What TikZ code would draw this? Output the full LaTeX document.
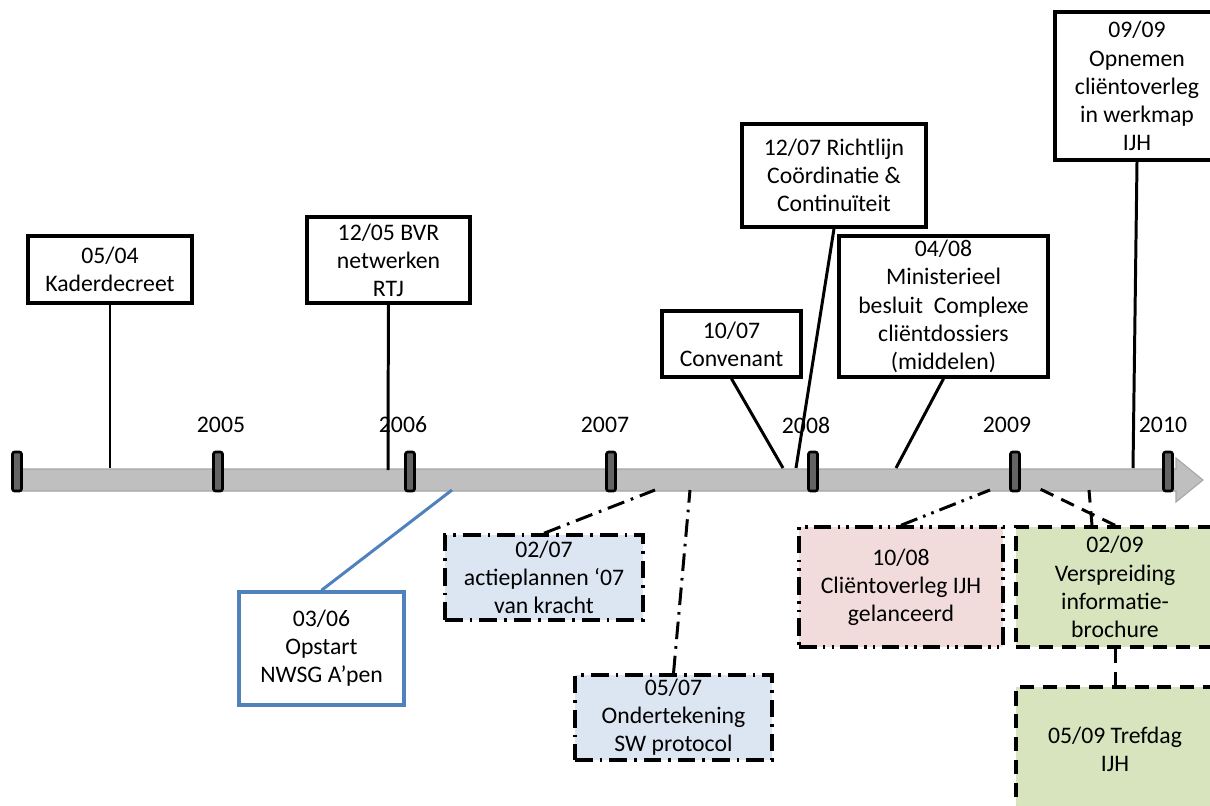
\documentclass[tikz,border=0pt]{standalone}
\usepackage{fontspec}
\setmainfont{Carlito}
\usepackage{tikz}
\usetikzlibrary{positioning}
\definecolor{lineblue}{RGB}{79,129,189}
\definecolor{lblue}{RGB}{220,230,242}
\definecolor{lpink}{RGB}{242,220,219}
\definecolor{lgreen}{RGB}{215,228,189}
\definecolor{bargray}{RGB}{191,191,191}
\definecolor{baredge}{RGB}{166,166,166}
\definecolor{tickgray}{RGB}{100,100,100}
\tikzstyle{event} = [rectangle, draw=black, line width=2pt, fill=white,
align=center, inner sep=0pt, font=\fontsize{13.5}{16}\selectfont]
\tikzstyle{stem} = [line width=1.7pt]
\tikzstyle{dashdot} = [dash pattern=on 10pt off 4pt on 1.5pt off 4pt]
\tikzstyle{dashdotdot} = [dash pattern=on 10pt off 3.5pt on 1.5pt off 3.5pt on 1.5pt off 3.5pt]
\tikzstyle{longdash} = [dash pattern=on 8pt off 5pt]
\tikzstyle{yearlabel} = [inner sep=0pt, font=\fontsize{13.5}{16}\selectfont]
\tikzstyle{tick} = [draw=black, fill=tickgray, line width=1.5pt, rounded corners=1.2pt]

\begin{document}
\begin{tikzpicture}[x=0.02cm, y=-0.02cm]
    \clip (0,0) rectangle (1210,805);
    \fill[white] (0,0) rectangle (1210,805);

    \filldraw[fill=bargray, draw=baredge, line width=0.6pt]
        (13,469) -- (1176,469) -- (1176,458) -- (1203,480)
        -- (1176,502) -- (1176,491) -- (13,491) -- cycle;

    \node[yearlabel] (y2005) at (221,425) {2005};
    \node[yearlabel] (y2006) at (403,425) {2006};
    \node[yearlabel] (y2007) at (605,425) {2007};
    \node[yearlabel] (y2008) at (806,425) {2008};
    \node[yearlabel] (y2009) at (1007,425) {2009};
    \node[yearlabel] (y2010) at (1163,425) {2010};

    \coordinate (a-kader) at (110,468);
    \coordinate (a-bvr) at (388,470);
    \coordinate (a-conv) at (783,468);
    \coordinate (a-richt) at (796,468);
    \coordinate (a-minis) at (896,468);
    \coordinate (a-opnem) at (1133,468);
    \coordinate (a-opstart) at (452,490);
    \coordinate (a-actie) at (655,490);
    \coordinate (a-onder) at (690,490);
    \coordinate (a-clientov) at (990,490);
    \coordinate (a-versp) at (1038,488);
    \coordinate (a-versp2) at (1089,490);

    \node (kader) [event, minimum width=3.28cm, minimum height=1.34cm] at (110,269.5)
        {05/04\\Kaderdecreet};
    \node (bvr) [event, minimum width=3.26cm, minimum height=1.72cm] at (388.5,260)
        {12/05 BVR\\netwerken\\RTJ};
    \node (conv) [event, minimum width=2.78cm, minimum height=1.32cm] at (731.5,344)
        {10/07\\Convenant};
    \node (richt) [event, minimum width=3.68cm, minimum height=2.06cm] at (834,175.5)
        {12/07 Richtlijn\\Coördinatie \&\\Continuïteit};
    \node (minis) [event, minimum width=4.18cm, minimum height=2.82cm] at (943.5,306.5)
        {04/08\\Ministerieel\\besluit~~Complexe\\cliëntdossiers\\(middelen)};
    \node (opnem) [event, minimum width=3.28cm, minimum height=2.96cm] at (1137,86)
        {09/09\\Opnemen\\cliëntoverleg\\in werkmap\\IJH};

    \node (opstart) [event, draw=lineblue, minimum width=3.30cm, minimum height=2.26cm] at (321.5,648.5)
        {03/06\\Opstart\\NWSG A’pen};
    \node (actie) [event, dashdot, fill=lblue, minimum width=3.96cm, minimum height=1.70cm] at (544,577.5)
        {02/07\\actieplannen ‘07\\van kracht};
    \node (onder) [event, dashdot, fill=lblue, minimum width=3.94cm, minimum height=1.70cm] at (673.5,717.5)
        {05/07\\Ondertekening\\SW protocol};
    \node (clientov) [event, dashdotdot, fill=lpink, minimum width=4.08cm, minimum height=2.40cm] at (901,587)
        {10/08\\Cliëntoverleg IJH\\gelanceerd};
    \node (versp) [event, longdash, fill=lgreen, minimum width=3.96cm, minimum height=2.40cm] at (1115,587)
        {02/09\\Verspreiding\\informatie-\\brochure};
    \node (tref) [event, longdash, fill=lgreen, minimum width=3.96cm, minimum height=2.50cm] at (1115,749.5)
        {05/09 Trefdag\\IJH};

    \draw [stem] (kader) -- (a-kader);
    \draw [stem] (bvr) -- (a-bvr);
    \draw [stem] (conv.south) -- (a-conv);
    \draw [stem] (richt.south) -- (a-richt);
    \draw [stem] (minis.south) -- (a-minis);
    \draw [stem] (opnem.south) -- (a-opnem);
    \draw [stem, lineblue] (opstart.north) -- (a-opstart);
    \draw [stem, dashdot] (actie.north) -- (a-actie);
    \draw [stem, dashdot] (onder.north) -- (a-onder);
    \draw [stem, dashdotdot] (clientov.north) -- (a-clientov);
    \draw [stem, longdash] (versp.north) -- (a-versp);
    \draw [stem, longdash] ([xshift=-0.46cm]versp.north) -- (a-versp2);
    \draw [stem, longdash] (versp.south) -- (tref.north);

    \foreach \x in {17,218,410,611,813,1015,1168}
        \draw [tick] (\x-4.5,452) rectangle (\x+4.5,491);
\end{tikzpicture}
\end{document}
